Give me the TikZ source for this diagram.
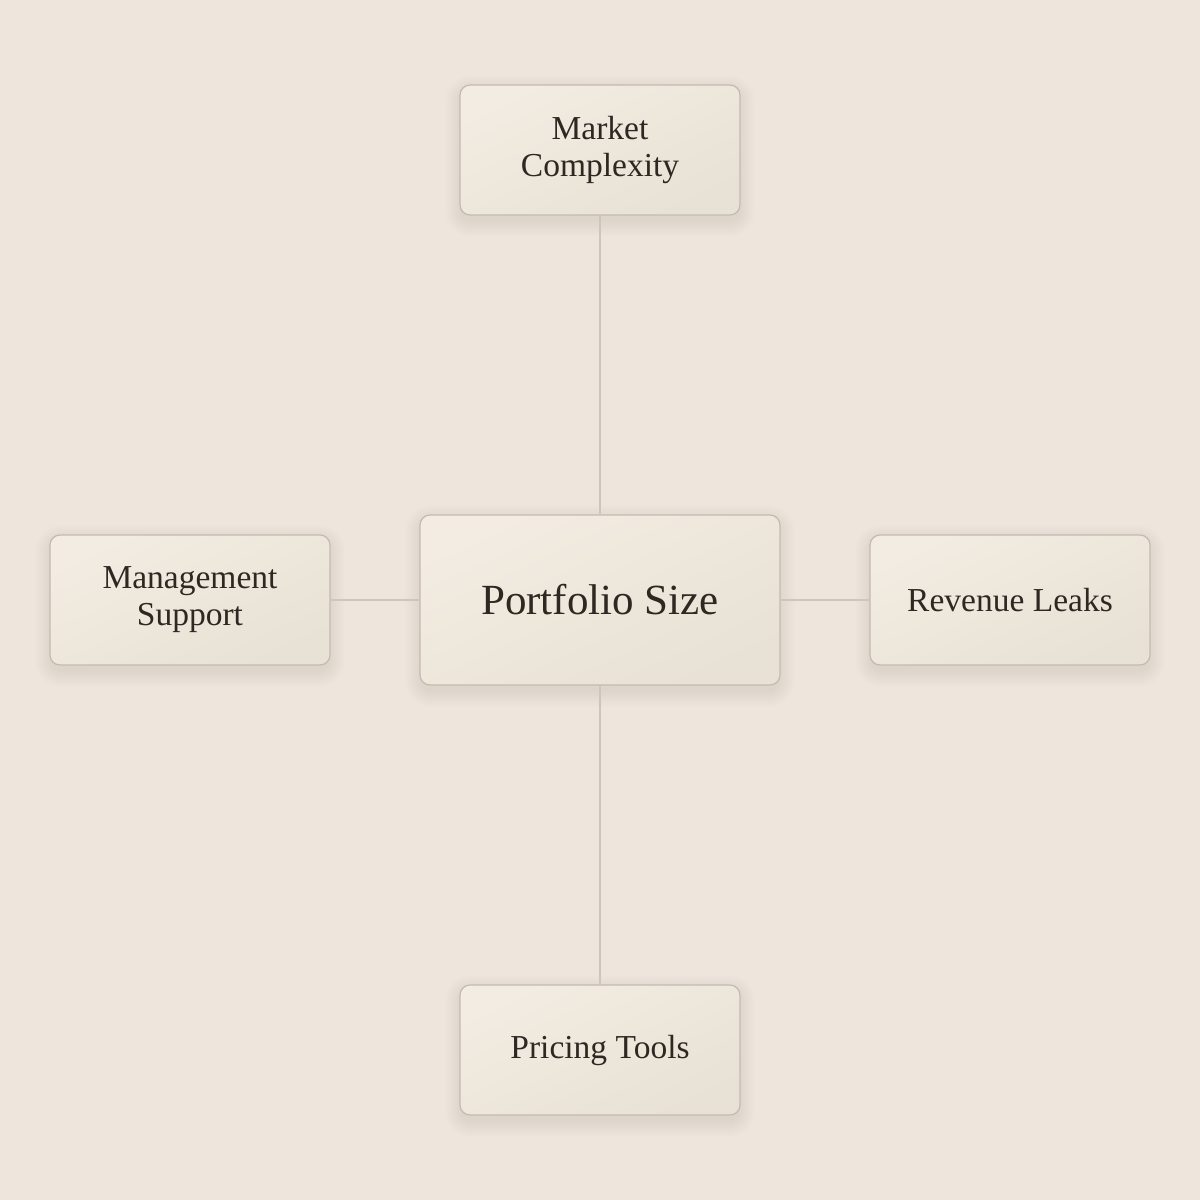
\documentclass[tikz,border=0pt]{standalone}
\usepackage{fontspec}
\setmainfont{Liberation Serif}
\definecolor{bg}{HTML}{EEE6DC}
\definecolor{boxA}{HTML}{F2ECE2}
\definecolor{boxB}{HTML}{E8E1D5}
\definecolor{boxline}{HTML}{C3BBB1}
\definecolor{conn}{HTML}{CDC6BC}
\definecolor{txt}{HTML}{2E2823}
\definecolor{shade}{HTML}{8A7A66}
\pgfdeclarelayer{background}
\pgfsetlayers{background,main}
\tikzset{
  box/.style={draw=boxline, line width=1.2pt, rounded corners=10pt,
    top color=boxA, bottom color=boxB, shading angle=25,
    text=txt, align=center, inner sep=0pt},
  outer/.style={box, minimum width=280pt, minimum height=130pt,
    font=\fontsize{33.5}{37}\selectfont},
  centre/.style={box, minimum width=360pt, minimum height=170pt,
    font=\fontsize{43}{48}\selectfont},
  link/.style={draw=conn, line width=1.2pt},
  softshadow/.style={fill=shade, opacity=0.012}
}
\begin{document}
\begin{tikzpicture}[x=1pt,y=-1pt]
\useasboundingbox (0,0) rectangle (1200,1200);
\node[centre] (c) at (600,600) {Portfolio Size};
\node[outer] (t) at (600,150) {Market\\Complexity};
\node[outer] (b) at (600,1050) {Pricing Tools};
\node[outer] (l) at (190,600) {Management\\Support};
\node[outer] (r) at (1010,600) {Revenue Leaks};
\begin{pgfonlayer}{background}
\fill[bg] (0,0) rectangle (1200,1200);
\foreach \n in {c,t,b,l,r}{
  \foreach \k in {0,2,...,16}{
    \fill[softshadow, rounded corners=10pt+\k pt]
      ([xshift=-\k pt+2pt, yshift=-5pt+\k pt-2pt]\n.north west) rectangle
      ([xshift=\k pt-2pt, yshift=-5pt-\k pt]\n.south east);
  }
}
\end{pgfonlayer}
\draw[link] (t.south) -- (c.north);
\draw[link] (c.south) -- (b.north);
\draw[link] (l.east) -- (c.west);
\draw[link] (c.east) -- (r.west);
\end{tikzpicture}
\end{document}
